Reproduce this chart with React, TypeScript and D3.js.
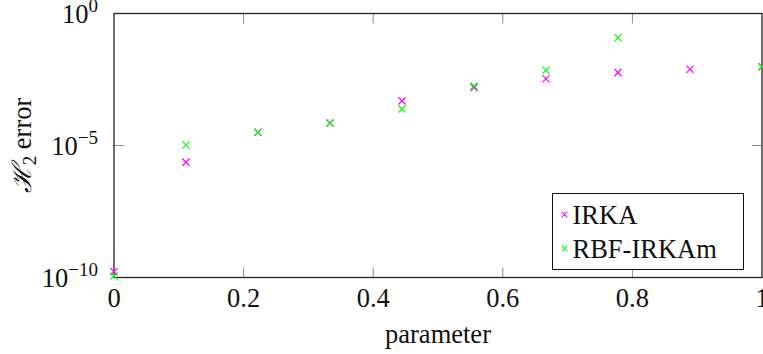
import React, { useEffect, useRef } from "react";
import * as d3 from "d3";

// parameter samples (0, 1/9, ..., 1)
const params = [0, 1 / 9, 2 / 9, 3 / 9, 4 / 9, 5 / 9, 6 / 9, 7 / 9, 8 / 9, 1];
// log10 of H2 error (null = hidden under the other marker)
const irkaLog = [-9.78, -5.63, -4.5, -4.15, -3.31, -2.8, -2.47, -2.24, -2.11, -2.02];
const rbfLog = [-9.94, -4.98, -4.5, -4.15, -3.62, -2.75, -2.15, -0.92, null, -2.02];
const xTicks = [0, 0.2, 0.4, 0.6, 0.8, 1];
const yTickExps = [0, -5, -10];

const series = [
  { name: "IRKA", color: "#ff00ff", values: irkaLog },
  { name: "RBF-IRKAm", color: "#00ff00", values: rbfLog },
];

const FONT = "'Liberation Serif', 'DejaVu Serif', serif";
const FS = 26.5;

const App = () => {
  const svgRef = useRef<SVGSVGElement>(null);

  useEffect(() => {
    const width = 763,
      height = 354;
    const margin = { top: 13.5, right: 1, bottom: 76.5, left: 114 };
    const w = width - margin.left - margin.right,
      h = height - margin.top - margin.bottom;

    const root = d3.select(svgRef.current);
    root.selectAll("*").remove();
    root.attr("width", width).attr("height", height);

    const svg = root
      .append("g")
      .attr("transform", `translate(${margin.left},${margin.top})`);

    const x = d3.scaleLinear().domain([0, 1]).range([0, w]);
    const y = d3.scaleLog().domain([1e-10, 1]).range([h, 0]);

    // inward ticks, all four sides
    const tickLen = 10;
    const tickColor = "#8c8c8c";
    xTicks.slice(1, -1).forEach((t) => {
      svg.append("line").attr("x1", x(t)).attr("x2", x(t)).attr("y1", h).attr("y2", h - tickLen)
        .attr("stroke", tickColor).attr("stroke-width", 1);
      svg.append("line").attr("x1", x(t)).attr("x2", x(t)).attr("y1", 0).attr("y2", tickLen)
        .attr("stroke", tickColor).attr("stroke-width", 1);
    });
    yTickExps.slice(1, -1).forEach((e) => {
      const yy = y(Math.pow(10, e));
      svg.append("line").attr("x1", 0).attr("x2", tickLen).attr("y1", yy).attr("y2", yy)
        .attr("stroke", tickColor).attr("stroke-width", 1);
      svg.append("line").attr("x1", w).attr("x2", w - tickLen).attr("y1", yy).attr("y2", yy)
        .attr("stroke", tickColor).attr("stroke-width", 1);
    });

    // frame
    svg.append("rect").attr("x", 0).attr("y", 0).attr("width", w).attr("height", h)
      .attr("fill", "none").attr("stroke", "#222").attr("stroke-width", 1.3);

    // x tick labels
    svg.selectAll(".xl").data(xTicks).enter().append("text")
      .attr("x", (d) => x(d)).attr("y", h + 29)
      .attr("text-anchor", "middle").attr("font-family", FONT).attr("font-size", FS)
      .attr("fill", "#111").text((d) => d3.format("~g")(d));

    // y tick labels 10^e
    yTickExps.forEach((e) => {
      const t = svg.append("text")
        .attr("x", -16).attr("y", y(Math.pow(10, e)) + 9)
        .attr("text-anchor", "end").attr("font-family", FONT).attr("font-size", FS).attr("fill", "#111");
      t.append("tspan").text("10");
      t.append("tspan").attr("dy", -11).attr("font-size", 19).text(e === 0 ? "0" : "\u2212" + Math.abs(e));
    });

    // axis labels
    svg.append("text").attr("x", w / 2).attr("y", h + 65)
      .attr("text-anchor", "middle").attr("font-family", FONT).attr("font-size", FS)
      .attr("fill", "#111").text("parameter");

    const yl = root.append("text")
      .attr("transform", `translate(31,${margin.top + h / 2}) rotate(-90)`)
      .attr("text-anchor", "middle").attr("font-family", FONT).attr("font-size", FS).attr("fill", "#111");
    yl.append("tspan").attr("font-style", "italic").text("\u210B");
    yl.append("tspan").attr("dy", 5).attr("font-size", 19).text("2");
    yl.append("tspan").attr("dy", -5).text(" error");

    // markers
    const cross = (g, cx, cy, r, color, sw) => {
      g.append("path")
        .attr("d", `M${cx - r},${cy - r}L${cx + r},${cy + r}M${cx - r},${cy + r}L${cx + r},${cy - r}`)
        .attr("stroke", color).attr("stroke-width", sw).attr("fill", "none");
    };
    series.forEach((s) => {
      const g = svg.append("g");
      s.values.forEach((v, i) => {
        if (v == null) return;
        cross(g, x(params[i]), y(Math.pow(10, v)), 3.6, s.color, 1.2);
      });
    });

    // legend
    const lg = root.append("g").attr("transform", "translate(552.5,193.5)");
    lg.append("rect").attr("width", 191).attr("height", 76).attr("fill", "#fff")
      .attr("stroke", "#111").attr("stroke-width", 1);
    series.forEach((s, i) => {
      const cy = 21 + i * 34;
      cross(lg, 12, cy, 2.8, s.color, 1.1);
      lg.append("text").attr("x", 20).attr("y", cy + 9)
        .attr("font-family", FONT).attr("font-size", FS).attr("fill", "#111").text(s.name);
    });
  }, []);

  return (
    <div style={{ position: "fixed", left: 0, top: 0 }}>
      <svg ref={svgRef} style={{ display: "block", background: "#fff" }}></svg>
    </div>
  );
};

export default App;
